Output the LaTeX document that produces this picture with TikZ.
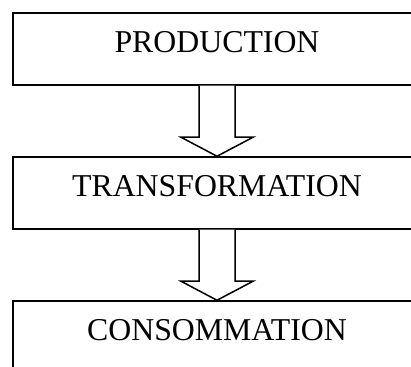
\documentclass[tikz,border=0pt]{standalone}
\usepackage{fontspec}
\setmainfont{Liberation Serif}
\usetikzlibrary{calc}

\tikzset{
  stagebox/.style={draw, line width=0.75pt, rectangle, inner sep=0pt,
    minimum width=204pt, text height=20pt, text depth=16pt,
    font=\fontsize{15.9}{18}\selectfont},
  flowarrow/.style={draw, line width=0.75pt, fill=white, line join=miter}
}

% hollow block arrow from one stage to the next
\newcommand{\stagearrow}[2]{%
  \draw[flowarrow] ($(#1.south)+(-18,0)$) -- ($(#2.north)+(-18,-19)$)
    -- ($(#2.north)+(-36,-19)$) -- (#2.north) -- ($(#2.north)+(36,-19)$)
    -- ($(#2.north)+(18,-19)$) -- ($(#1.south)+(18,0)$);}

\begin{document}
\begin{tikzpicture}[x=0.5pt, y=-0.5pt]
  \useasboundingbox (0,0) rectangle (411,367);

  % stages
  \node[stagebox] (prod)  at (217,49)  {PRODUCTION};
  \node[stagebox] (trans) at (217,193) {TRANSFORMATION};
  \node[stagebox] (cons)  at (217,337) {CONSOMMATION};

  % arrows
  \stagearrow{prod}{trans}
  \stagearrow{trans}{cons}
\end{tikzpicture}
\end{document}
